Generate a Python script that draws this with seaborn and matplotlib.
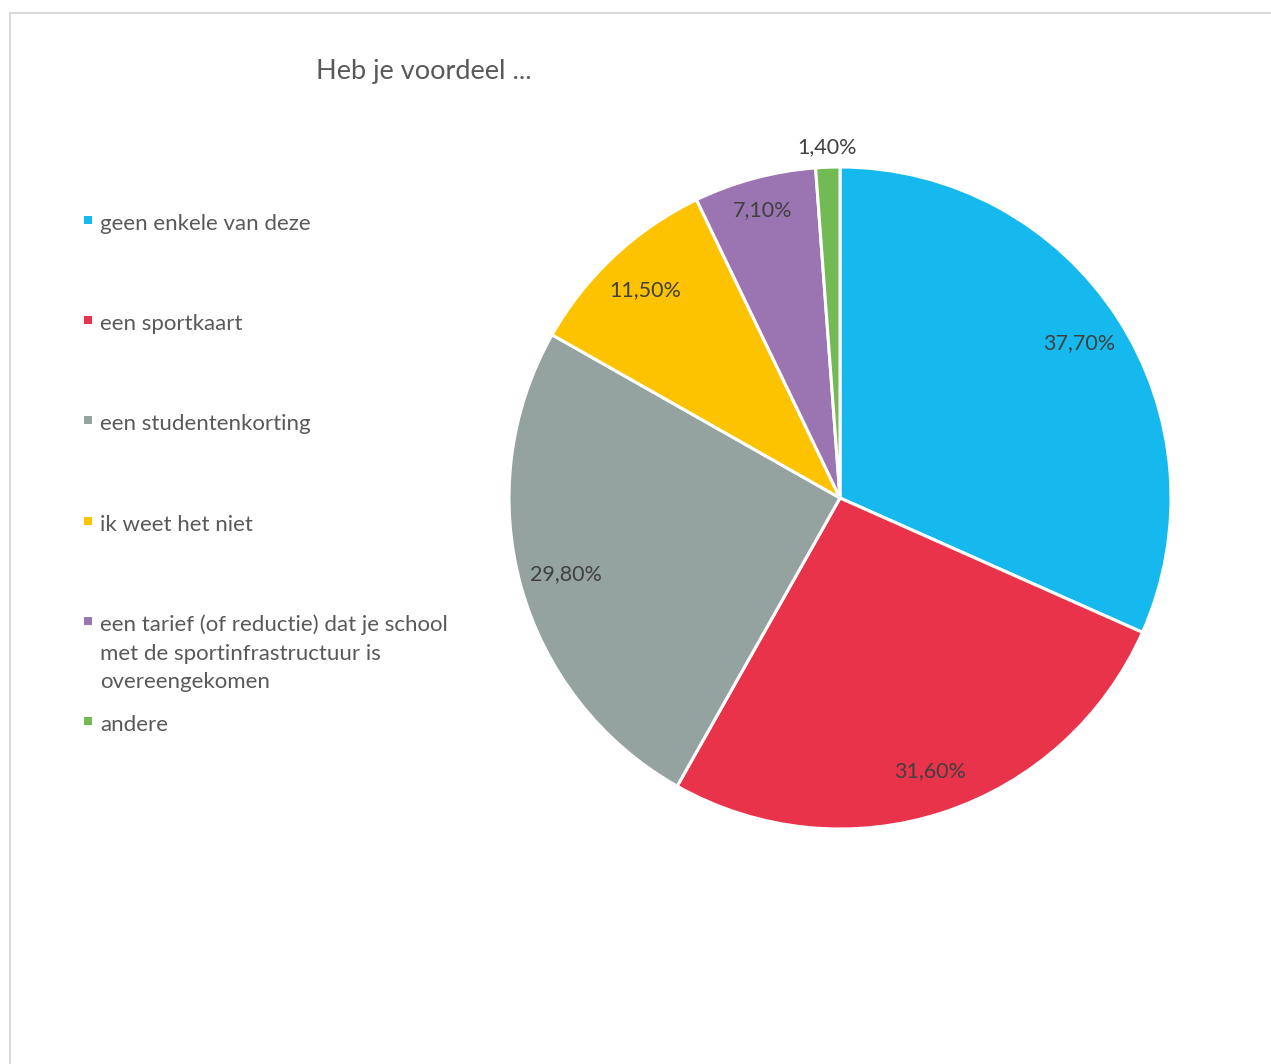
import matplotlib.pyplot as plt
import numpy as np
import seaborn as sns
from matplotlib.patches import Rectangle

categories = [
    "geen enkele van deze",
    "een sportkaart",
    "een studentenkorting",
    "ik weet het niet",
    "een tarief (of reductie) dat je school\nmet de sportinfrastructuur is\novereengekomen",
    "andere",
]
values = [37.7, 31.6, 29.8, 11.5, 7.1, 1.4]
value_labels = ["37,70%", "31,60%", "29,80%", "11,50%", "7,10%", "1,40%"]
colors = sns.color_palette(
    ["#15b9ee", "#e8334b", "#95a3a0", "#fdc300", "#9b74b2", "#72bb54"]
)

sns.set_theme(style="white")
plt.rcParams["font.family"] = ["Lato", "DejaVu Sans"]

text_color = "#595959"
label_color = "#404040"

W, H = 1271, 1064
fig = plt.figure(figsize=(W / 100, H / 100), dpi=100)
fig.patch.set_facecolor("white")

# light frame round the chart area
fig.patches.append(
    Rectangle(
        (10 / W, -0.05),
        1.1,
        1 - 13 / H + 0.05,
        transform=fig.transFigure,
        fill=False,
        edgecolor="#d9d9d9",
        linewidth=1.5,
    )
)

# pie
cx, cy, r = 840, 498, 331
ax = fig.add_axes([(cx - r) / W, (H - cy - r) / H, 2 * r / W, 2 * r / H])
wedges, _ = ax.pie(
    values,
    colors=colors,
    startangle=90,
    counterclock=False,
    wedgeprops={"edgecolor": "white", "linewidth": 2.2},
    radius=1.0,
)
ax.set_xlim(-1, 1)
ax.set_ylim(-1, 1)
ax.set_aspect("equal")
ax.axis("off")

# value labels (last one sits outside the pie)
label_dist = [0.86, 0.87, 0.86, 0.86, 0.9, 1.06]
for w, lab, dist in zip(wedges, value_labels, label_dist):
    ang = np.deg2rad((w.theta1 + w.theta2) / 2)
    ax.text(
        dist * np.cos(ang),
        dist * np.sin(ang),
        lab,
        ha="center",
        va="center",
        fontsize=15.5,
        color=label_color,
    )

# title
fig.text(
    316 / W,
    1 - 72 / H,
    "Heb je voordeel ...",
    ha="left",
    va="center",
    fontsize=19.5,
    color=text_color,
)

# legend, entries top aligned in equal slots
for i, (cat, col) in enumerate(zip(categories, colors)):
    y_top = 220 + 100.2 * i
    fig.patches.append(
        Rectangle(
            (84 / W, 1 - (y_top + 4) / H),
            8 / W,
            8 / H,
            transform=fig.transFigure,
            facecolor=col,
            edgecolor="none",
        )
    )
    fig.text(
        100 / W,
        1 - (y_top - 6) / H,
        cat,
        ha="left",
        va="top",
        fontsize=16,
        color=text_color,
        linespacing=1.52,
    )

plt.savefig("out.png", dpi=100)
